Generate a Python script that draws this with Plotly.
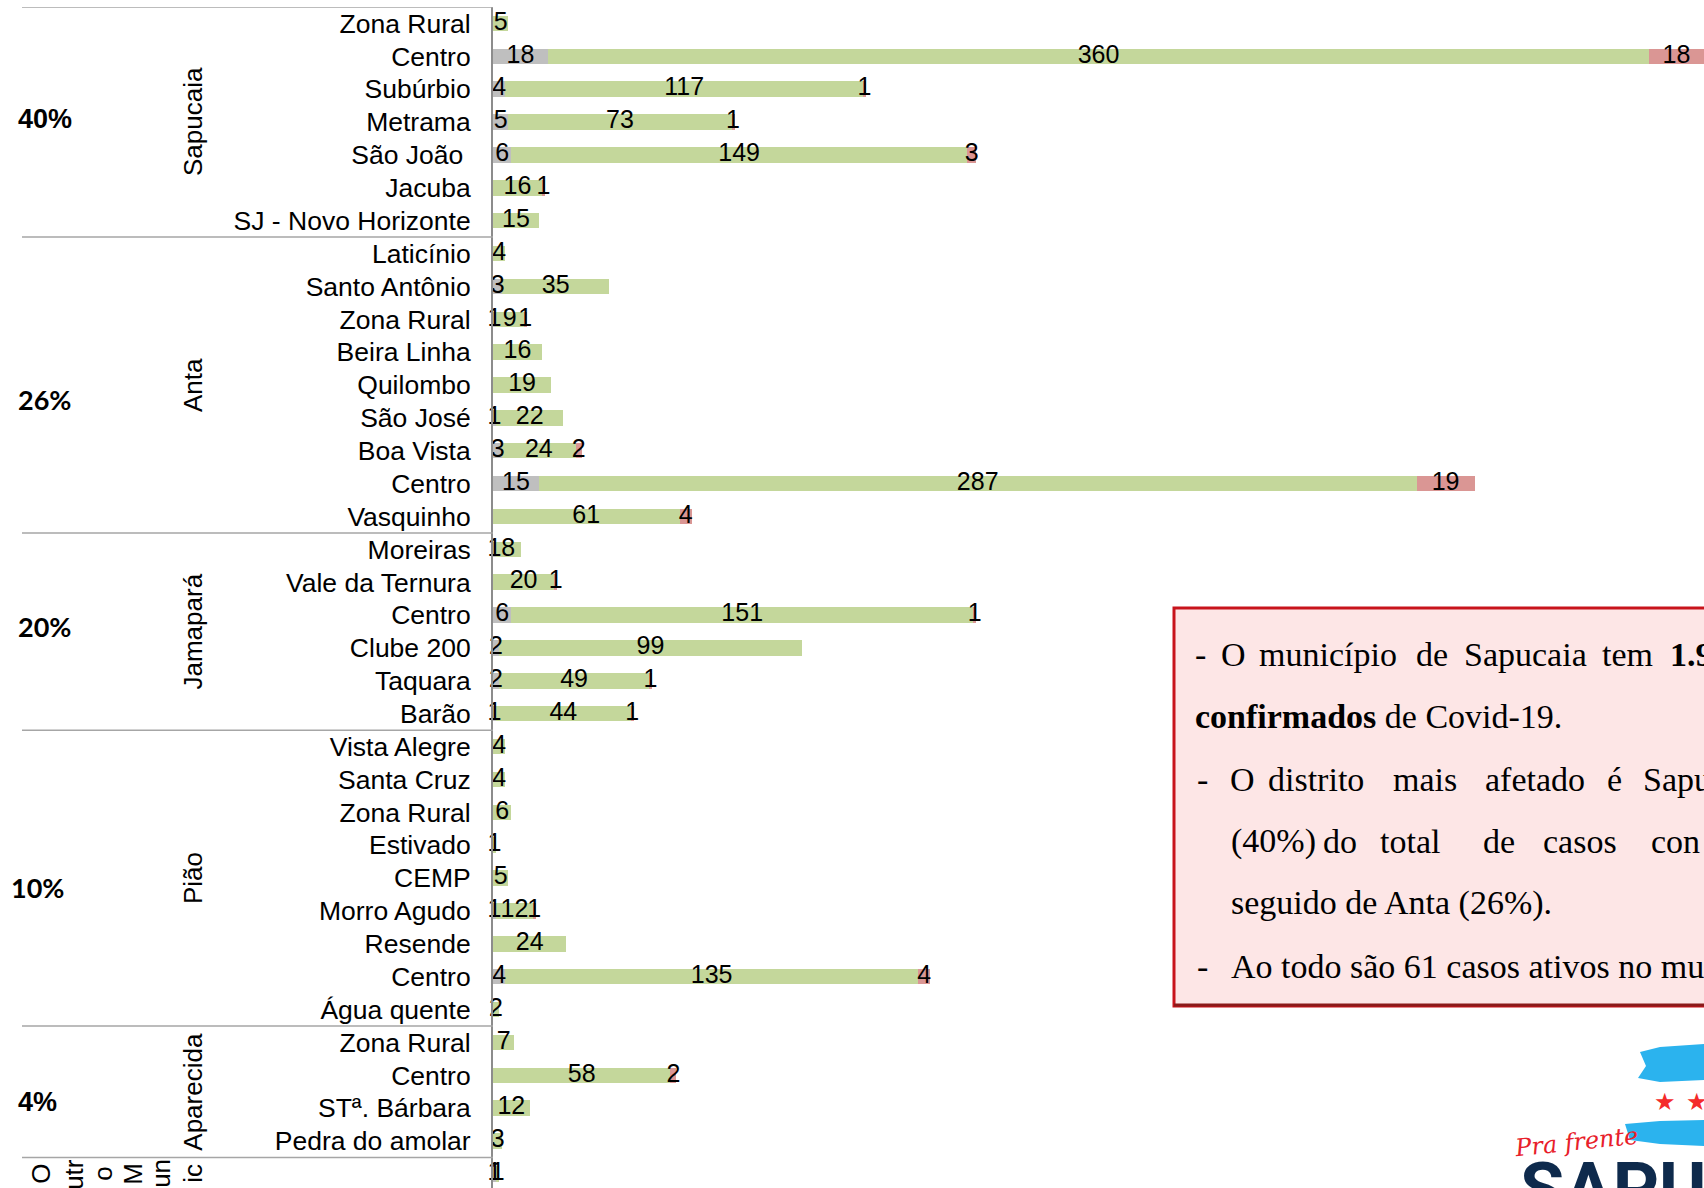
import plotly.graph_objects as go

# ---------------- data ----------------
districts = ["Sapucaia", "Anta", "Jamapará", "Pião", "Aparecida"]
district_pct = ["40%", "26%", "20%", "10%", "4%"]
other_label_parts = ["O", "utr", "o", "M", "un", "ic"]   # wrapped "Outro Munic..." cell

nb_sapucaia = ["Zona Rural", "Centro", "Subúrbio", "Metrama", "São João\u00a0", "Jacuba", "SJ - Novo Horizonte"]
nb_anta = ["Laticínio", "Santo Antônio", "Zona Rural", "Beira Linha", "Quilombo", "São José", "Boa Vista", "Centro", "Vasquinho"]
nb_jamapara = ["Moreiras", "Vale da Ternura", "Centro", "Clube 200", "Taquara", "Barão"]
nb_piao = ["Vista Alegre", "Santa Cruz", "Zona Rural", "Estivado", "CEMP", "Morro Agudo", "Resende", "Centro", "Água quente"]
nb_aparecida = ["Zona Rural", "Centro", "STª. Bárbara", "Pedra do amolar"]
nb_outro = ["Sapuc. Minas"]

obitos = [0, 18, 4, 5, 6, 0, 0,
          0, 3, 1, 0, 0, 1, 3, 15, 0,
          1, 0, 6, 2, 2, 1,
          0, 0, 0, 0, 0, 1, 0, 4, 0,
          0, 0, 0, 0,
          1]
recuperados = [5, 360, 117, 73, 149, 16, 15,
               4, 35, 9, 16, 19, 22, 24, 287, 61,
               8, 20, 151, 99, 49, 44,
               4, 4, 6, 1, 5, 12, 24, 135, 2,
               7, 58, 12, 3,
               1]
ativos = [0, 18, 1, 1, 3, 1, 0,
          0, 0, 1, 0, 0, 0, 2, 19, 4,
          0, 1, 1, 0, 1, 1,
          0, 0, 0, 0, 0, 1, 0, 4, 0,
          0, 2, 0, 0,
          0]

groups = [nb_sapucaia, nb_anta, nb_jamapara, nb_piao, nb_aparecida, nb_outro]
labels = [n for g in groups for n in g]
rows = list(range(len(labels)))

# ---------------- geometry helpers ----------------
W, H = 1704, 1188
L, R, T, B = 493, 1704, 7, 1188


def px(x):
    return (x - L) / (R - L)


def py(y):
    return (B - y) / (B - T)


FONT = "Arial, Liberation Sans, sans-serif"
GRAY, GREEN, PINK = "#BFBFBF", "#C4D79B", "#DA9694"

fig = go.Figure()
series = [(obitos, GRAY, "Óbitos"), (recuperados, GREEN, "Recuperados"), (ativos, PINK, "Ativos")]
for vals, col, name in series:
    fig.add_trace(go.Bar(y=rows, x=vals, orientation="h", marker=dict(color=col, line=dict(width=0)),
                         width=0.47, name=name, showlegend=False, hoverinfo="x+name"))

# value labels centred on their segment (Excel style, allowed to overflow)
base = [0] * len(rows)
for vals, col, name in series:
    xs, ys, ts = [], [], []
    for i, v in enumerate(vals):
        if v > 0:
            xs.append(base[i] + v / 2)
            ys.append(i)
            ts.append(str(v))
        base[i] += v
    fig.add_trace(go.Scatter(x=xs, y=ys, text=ts, mode="text", textposition="middle center",
                             textfont=dict(family=FONT, size=25, color="black"),
                             cliponaxis=False, showlegend=False, hoverinfo="skip"))

shapes = []
annotations = []

# group separators and group labels
start = 0
sep_color = "#A6A6A6"
shapes.append(dict(type="line", xref="paper", yref="y", x0=px(22), x1=px(L), y0=-0.5, y1=-0.5,
                   line=dict(color=sep_color, width=1.5)))
pct_fonts = [FONT, "Lato, sans-serif", "Lato, sans-serif", "Lato, sans-serif", FONT]
pct_x = [16, 16, 16, 9, 16]
pct_dy = [-0.1, 0.45, -0.15, 0.3, 0.3]
for gi, g in enumerate(groups):
    end = start + len(g) - 1
    mid = (start + end) / 2
    shapes.append(dict(type="line", xref="paper", yref="y", x0=px(22), x1=px(L), y0=end + 0.5, y1=end + 0.5,
                       line=dict(color=sep_color, width=1.5)))
    if gi < len(districts):
        annotations.append(dict(xref="paper", yref="y", x=px(193), y=mid, text=districts[gi], textangle=-90,
                                showarrow=False, xanchor="center", yanchor="middle",
                                font=dict(family=FONT, size=26, color="black")))
        annotations.append(dict(xref="paper", yref="y", x=px(pct_x[gi]), y=mid + pct_dy[gi],
                                text="<b>%s</b>" % district_pct[gi], showarrow=False,
                                xanchor="left", yanchor="middle",
                                font=dict(family=pct_fonts[gi], size=27, color="black")))
    else:
        part_x = [41, 74, 103, 133, 161, 193]
        for t, xx in zip(other_label_parts, part_x):
            annotations.append(dict(xref="paper", yref="y", x=px(xx), y=mid, text=t, textangle=-90,
                                    showarrow=False, xanchor="center", yanchor="middle",
                                    font=dict(family=FONT, size=26, color="black")))
    start = end + 1

# ---------------- text box ----------------
shapes.append(dict(type="rect", xref="paper", yref="paper", x0=px(1174), x1=px(1780), y0=py(1006), y1=py(608),
                   fillcolor="#FDE6E6", line=dict(color="#C8141C", width=3), layer="above"))
shapes.append(dict(type="line", xref="paper", yref="paper", x0=px(1174), x1=px(1780), y0=py(1005), y1=py(1005),
                   line=dict(color="#8B1A1A", width=3), layer="above"))
SERIF = "Liberation Serif, Times New Roman, serif"
line_y = [654, 716, 779, 841, 903, 966]
box_words = [
    [(1193, "-"), (1219, "O"), (1257, "município"), (1414, "de"), (1462, "Sapucaia"), (1600, "tem"), (1668, "<b>1.9</b>")],
    [(1193, "<b>confirmados</b> de Covid-19.")],
    [(1195, "-"), (1228, "O"), (1266, "distrito"), (1391, "mais"), (1483, "afetado"), (1605, "é"), (1641, "Sapuc")],
    [(1229, "(40%)"), (1321, "do"), (1378, "total"), (1481, "de"), (1541, "casos"), (1649, "con")],
    [(1229, "seguido de Anta (26%).")],
    [(1195, "-"), (1229, "Ao todo são 61 casos ativos no mu")],
]
for yy, words in zip(line_y, box_words):
    for xx, t in words:
        annotations.append(dict(xref="paper", yref="paper", x=px(xx), y=py(yy), text=t, showarrow=False,
                                xanchor="left", yanchor="middle",
                                font=dict(family=SERIF, size=34, color="black")))

# ---------------- logo (approximation) ----------------
def path(points):
    return "M " + " L ".join("%f,%f" % (px(a), py(b)) for a, b in points) + " Z"

BLUE = "#2BB3EE"
shapes.append(dict(type="path", xref="paper", yref="paper",
                   path=path([(1640, 1052), (1660, 1047), (1704, 1044), (1704, 1080), (1660, 1082), (1638, 1078), (1646, 1066)]),
                   fillcolor=BLUE, line=dict(width=0), layer="above"))
shapes.append(dict(type="path", xref="paper", yref="paper",
                   path=path([(1625, 1124), (1660, 1121), (1704, 1120), (1704, 1146), (1660, 1144), (1630, 1140)]),
                   fillcolor=BLUE, line=dict(width=0), layer="above"))
annotations.append(dict(xref="paper", yref="paper", x=px(1665), y=py(1102), text="★", showarrow=False,
                        xanchor="center", yanchor="middle", font=dict(family="DejaVu Sans", size=24, color="#F42A2A")))
annotations.append(dict(xref="paper", yref="paper", x=px(1697), y=py(1102), text="★", showarrow=False,
                        xanchor="center", yanchor="middle", font=dict(family="DejaVu Sans", size=24, color="#F42A2A")))
annotations.append(dict(xref="paper", yref="paper", x=px(1576), y=py(1142), text="<i>Pra frente</i>", showarrow=False,
                        xanchor="center", yanchor="middle", textangle=-6,
                        font=dict(family="DejaVu Serif", size=24, color="#E8202A")))
annotations.append(dict(xref="paper", yref="paper", x=px(1518), y=py(1145), text="<b>SAPU</b>", showarrow=False,
                        xanchor="left", yanchor="top",
                        font=dict(family="Roboto, Liberation Sans", size=72, color="#0E2A4C")))

fig.update_layout(
    width=W, height=H, barmode="stack", bargap=0.5,
    margin=dict(l=L, r=W - R, t=T, b=H - B, pad=0),
    paper_bgcolor="white", plot_bgcolor="white",
    showlegend=False,
    xaxis=dict(range=[0, 396], showgrid=False, zeroline=False, showticklabels=False, showline=False,
               fixedrange=True),
    yaxis=dict(range=[35.43, -0.5], tickmode="array", tickvals=rows, ticktext=labels,
               showgrid=False, zeroline=False, showline=True, linecolor="#8C8C8C", linewidth=2,
               ticks="", ticklabelstandoff=15,
               tickfont=dict(family=FONT, size=26.5, color="black"), fixedrange=True),
    shapes=shapes, annotations=annotations,
)

fig.write_html("out.html", config={"displayModeBar": False},
               post_script="document.body.style.margin='0';document.body.style.overflow='hidden';")
